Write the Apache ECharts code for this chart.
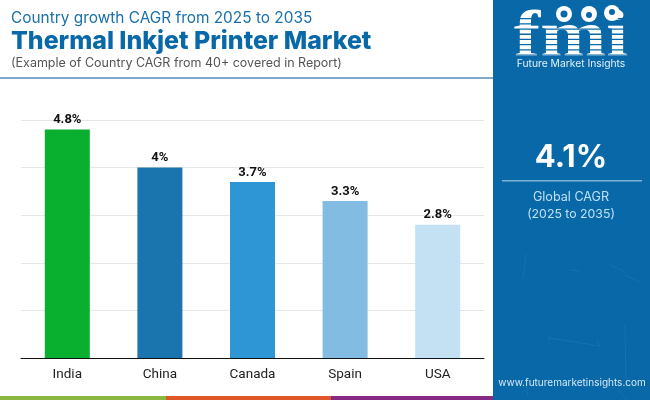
<!DOCTYPE html>
<html>
<head>
<meta charset="utf-8">
<style>
html, body { margin: 0; padding: 0; background: #fff; }
#chart { width: 650px; height: 400px; }
</style>
<script src="https://cdn.jsdelivr.net/npm/echarts@6/dist/echarts.min.js"></script>
</head>
<body>
<div id="chart"></div>
<script>
var categories = ['India', 'China', 'Canada', 'Spain', 'USA'];
var cagrValues = [4.8, 4, 3.7, 3.3, 2.8];
var barColors = ['#09b02f', '#1a75ae', '#2f96d6', '#82bce3', '#c4e1f3'];

var panelBlue = '#0868a8';
var headFont = 'Inter';

// flecks on the blue panel
var flecks = [
  [526, 254, 523, 278], [625, 275, 640, 282], [549, 338, 600, 346], [625, 325, 626, 385],
  [549, 336, 549, 345], [597, 340, 600, 346], [526, 385, 528, 396], [617, 388, 627, 400],
  [570, 270, 580, 271], [610, 265, 625, 272]
];

// horizontal bands cut through the logo letters
function logoStripes() {
  var out = [];
  for (var y = 18; y < 56; y += 5.2) {
    out.push({
      type: 'rect', z: 12,
      shape: { x: 514, y: y, width: 126, height: 1.3 },
      style: { fill: panelBlue }
    });
  }
  return out;
}

function text(x, y, str, font, fill, align) {
  return {
    type: 'text', z: 12, x: x, y: y,
    style: { text: str, font: font, fill: fill, align: align || 'left', verticalAlign: 'middle' }
  };
}

var chart = echarts.init(document.getElementById('chart'));
chart.setOption({
  animation: false,
  grid: { left: 21, right: 166, top: 120, bottom: 42 },
  xAxis: {
    type: 'category',
    data: categories,
    axisTick: { show: false },
    axisLine: { lineStyle: { color: '#111', width: 1 } },
    axisLabel: { color: '#222', fontFamily: 'Roboto', fontSize: 13.5, margin: 10 }
  },
  yAxis: {
    type: 'value',
    min: 0,
    max: 5,
    interval: 1,
    axisLine: { show: false },
    axisTick: { show: false },
    axisLabel: { show: false },
    splitLine: { lineStyle: { color: '#e6e6e6', width: 1 } }
  },
  series: [{
    type: 'bar',
    barWidth: 45,
    data: cagrValues.map(function (v, i) {
      return { value: v, itemStyle: { color: barColors[i] } };
    }),
    label: {
      show: true,
      position: 'top',
      distance: 3,
      formatter: '{c}%',
      color: '#111',
      fontFamily: 'Roboto',
      fontWeight: 'bold',
      fontSize: 13
    }
  }],
  graphic: [
    text(11, 18, 'Country growth CAGR from 2025 to 2035', '400 15.4px ' + headFont, '#1a70aa'),
    text(11, 42, 'Thermal Inkjet Printer Market', '800 24.9px ' + headFont, '#0868a8'),
    text(11, 63, '(Example of Country CAGR from 40+ covered in Report)', '400 12.5px ' + headFont, '#555'),
    { type: 'rect', shape: { x: 0, y: 77, width: 493, height: 2 }, style: { fill: '#80a9c9' } },

    { type: 'rect', shape: { x: 0, y: 396, width: 166, height: 4 }, style: { fill: '#8ab844' } },
    { type: 'rect', shape: { x: 166, y: 396, width: 165, height: 4 }, style: { fill: '#e0582a' } },
    { type: 'rect', shape: { x: 331, y: 396, width: 162, height: 4 }, style: { fill: '#862a84' } },

    { type: 'rect', z: 10, shape: { x: 493, y: 0, width: 157, height: 400 }, style: { fill: panelBlue } }
  ].concat(flecks.map(function (f) {
    return {
      type: 'line', z: 11,
      shape: { x1: f[0], y1: f[1], x2: f[2], y2: f[3] },
      style: { stroke: '#3f8fc2', lineWidth: 0.8, opacity: 0.35 }
    };
  })).concat([
    {
      type: 'text', z: 12, x: 571, y: 39, scaleX: 1.2, originX: 0, originY: 0,
      style: { text: 'fmi', font: '700 66px "Liberation Serif"', fill: '#fff', align: 'center', verticalAlign: 'middle' }
    }
  ]).concat(logoStripes()).concat([
    { type: 'circle', z: 13, shape: { cx: 564, cy: 14, r: 8 }, style: { fill: '#fff' } },
    { type: 'circle', z: 13, shape: { cx: 589, cy: 14, r: 8 }, style: { fill: '#fff' } },
    { type: 'circle', z: 13, shape: { cx: 612, cy: 13, r: 8 }, style: { fill: '#fff' } },
    { type: 'circle', z: 14, shape: { cx: 564, cy: 14, r: 3.5 }, style: { fill: panelBlue } },
    { type: 'circle', z: 14, shape: { cx: 589, cy: 15, r: 3 }, style: { fill: panelBlue } },
    { type: 'circle', z: 14, shape: { cx: 612, cy: 12, r: 3 }, style: { fill: panelBlue } },
    text(571, 64, 'Future Market Insights', '400 10.3px ' + headFont, '#e4f0f8', 'center'),
    text(571, 158, '4.1%', '700 31px ' + headFont, '#fff', 'center'),
    { type: 'rect', z: 12, shape: { x: 502, y: 180, width: 140, height: 1.5 }, style: { fill: '#7fb3d6' } },
    text(571, 197, 'Global CAGR', '400 12.6px ' + headFont, '#bfe0f5', 'center'),
    text(571, 214, '(2025 to 2035)', '400 12.3px ' + headFont, '#bfe0f5', 'center'),
    text(572, 383, 'www.futuremarketinsights.com', '400 10px ' + headFont, '#d5e8f5', 'center')
  ])
});
</script>
</body>
</html>
